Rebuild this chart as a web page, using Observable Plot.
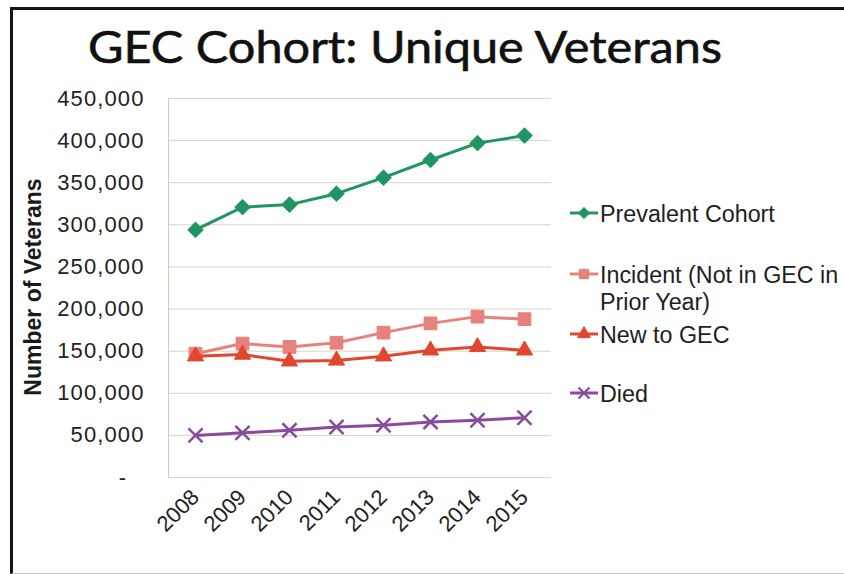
<!DOCTYPE html>
<html>
<head>
<meta charset="utf-8">
<script src="https://cdn.jsdelivr.net/npm/d3@7"></script>
<script src="https://cdn.jsdelivr.net/npm/@observablehq/plot@0.6"></script>
<style>
  html, body { margin: 0; background: #fff; overflow: hidden; }
  #wrap { position: relative; width: 844px; height: 574px; overflow: hidden; background: #fff;
          font-family: "Liberation Sans", Arial, sans-serif; }
  #frame { position: absolute; left: 10px; top: 7px; width: 860px; height: 563px;
           border-left: 3px solid #151515; border-top: 3px solid #151515; border-bottom: 1px solid #c4c4c4; }
  #chart, #overlay { position: absolute; left: 0; top: 0; }
  #chart [aria-label="y-axis tick label"] text { letter-spacing: 1.1px; }
</style>
</head>
<body>
<div id="wrap">
  <div id="frame"></div>
  <div id="chart"></div>
  <svg id="overlay" width="844" height="574"></svg>
</div>
<script>
// Unique veterans in the GEC cohort, by fiscal year
const years = [2008, 2009, 2010, 2011, 2012, 2013, 2014, 2015];
const prevalentCohort = [294000, 321000, 324000, 337000, 356000, 377000, 397000, 406000];
const incident = [147000, 159000, 155000, 160000, 172000, 183000, 191000, 188000];
const newToGec = [144000, 146000, 138000, 139000, 144000, 151000, 155000, 151000];
const died = [50000, 53000, 56000, 60000, 62000, 66000, 68000, 71000];

const seriesNames = ["Prevalent Cohort", "Incident (Not in GEC in Prior Year)", "New to GEC", "Died"];
const seriesColors = ["#1f9562", "#e5827d", "#e2462e", "#8a4b9e"];
const yTicks = [0, 50000, 100000, 150000, 200000, 250000, 300000, 350000, 400000, 450000];

const seriesValues = [prevalentCohort, incident, newToGec, died];
const rows = seriesNames.flatMap((name, i) =>
  years.map((year, j) => ({series: name, year, value: seriesValues[i][j]})));
const bySeries = name => rows.filter(d => d.series === name);

const fmt = d3.format(",");

// per-series marker styling
const markers = [
  {symbol: "diamond2", r: 7, fill: seriesColors[0], stroke: seriesColors[0], strokeWidth: 1},
  {symbol: "square", r: 7.2, fill: seriesColors[1], stroke: seriesColors[1], strokeWidth: 1},
  {symbol: "triangle", r: 6, fill: seriesColors[2], stroke: seriesColors[2], strokeWidth: 1},
  {symbol: "times", r: 6.5, fill: "none", stroke: seriesColors[3], strokeWidth: 2.5}
];

const marks = [
  Plot.ruleY(yTicks, {stroke: "#d8d4c6", strokeWidth: 1}),
  Plot.frame({anchor: "left", stroke: "#cfcbbd"}),
  Plot.axisY({ticks: yTicks, tickSize: 0, tickPadding: 24, fontSize: 22,
    tickFormat: d => d === 0 ? "-\u00a0\u00a0\u200a" : fmt(d), label: null}),
  Plot.axisX({tickSize: 0, tickRotate: -45, tickPadding: 16, fontSize: 22,
    tickFormat: d => String(d), label: null})
];
// draw order: prevalent, incident, new to GEC (over incident), died
[0, 1, 2, 3].forEach(i => {
  const data = bySeries(seriesNames[i]);
  marks.push(Plot.line(data, {x: "year", y: "value", stroke: seriesColors[i], strokeWidth: 3}));
  marks.push(Plot.dot(data, {x: "year", y: "value", ...markers[i]}));
});

const chart = Plot.plot({
  width: 844,
  height: 574,
  marginLeft: 168,
  marginRight: 293,
  marginTop: 98,
  marginBottom: 97,
  style: {fontFamily: "'Liberation Sans', Arial, sans-serif", color: "#222", background: "transparent", overflow: "visible"},
  x: {type: "point", domain: years, padding: 0.5, label: null},
  y: {domain: [0, 450000], label: null},
  marks
});
document.getElementById("chart").append(chart);

// title, y-axis title and legend
const svg = d3.select("#overlay");
svg.append("text")
  .attr("x", 88).attr("y", 63)
  .attr("textLength", 634).attr("lengthAdjust", "spacingAndGlyphs")
  .style("font-family", "Lato, 'Open Sans', sans-serif").style("font-size", "45px")
  .style("fill", "#111").style("stroke", "#111").style("stroke-width", "0.6px")
  .text("GEC Cohort: Unique Veterans");

svg.append("text")
  .attr("transform", "translate(41,287) rotate(-90)")
  .attr("text-anchor", "middle")
  .style("font-family", "'Liberation Sans', Arial, sans-serif")
  .style("font-size", "23px").style("font-weight", "bold").style("fill", "#1a1a1a")
  .text("Number of Veterans");

const legendY = [213, 274, 334, 393];
const legendLines = [["Prevalent Cohort"], ["Incident (Not in GEC in", "Prior Year)"], ["New to GEC"], ["Died"]];
const d3Symbols = [d3.symbolDiamond2, d3.symbolSquare, d3.symbolTriangle, d3.symbolTimes];
const legendSizes = [80, 90, 70, 80];
legendY.forEach((cy, i) => {
  const g = svg.append("g");
  g.append("line").attr("x1", 570).attr("x2", 598).attr("y1", cy).attr("y2", cy)
    .attr("stroke", seriesColors[i]).attr("stroke-width", 3);
  g.append("path").attr("transform", `translate(584,${cy})`)
    .attr("d", d3.symbol(d3Symbols[i], legendSizes[i])())
    .attr("fill", i === 3 ? "none" : seriesColors[i])
    .attr("stroke", seriesColors[i]).attr("stroke-width", i === 3 ? 2.2 : 1);
  legendLines[i].forEach((t, k) => {
    g.append("text").attr("x", 600).attr("y", cy + 8.5 + k * 27)
      .style("font-family", "'Liberation Sans', Arial, sans-serif")
      .style("font-size", "23.3px").style("fill", "#1e1e1e")
      .text(t);
  });
});
</script>
</body>
</html>
